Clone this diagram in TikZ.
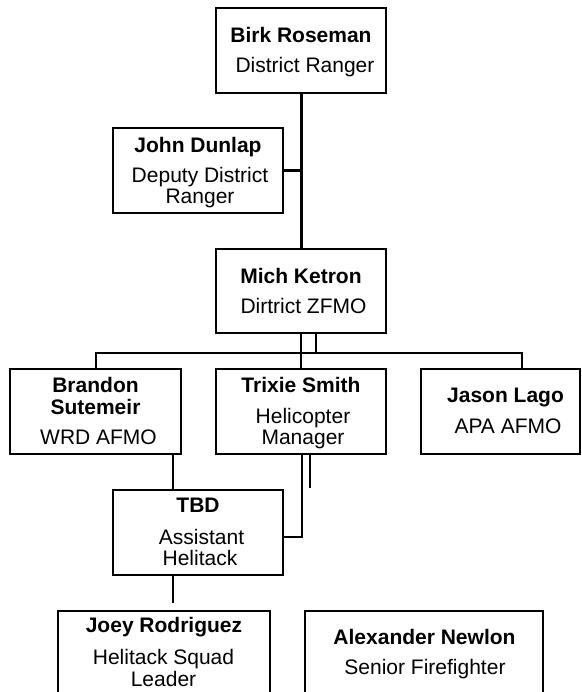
\documentclass[tikz,border=0pt]{standalone}
\usepackage{fontspec}
\setmainfont{Liberation Sans}
\begin{document}
\begin{tikzpicture}[x=1pt,y=-1pt,
  box/.style={draw, line width=2.2pt, rectangle, inner sep=0pt},
  nm/.style={anchor=base, inner sep=0pt, font=\fontsize{21}{21}\selectfont\bfseries},
  tt/.style={anchor=base, inner sep=0pt, font=\fontsize{21}{21}\selectfont},
  link/.style={line width=2pt},
  trunk/.style={line width=3pt}]
\useasboundingbox (0,0) rectangle (581,692);
\clip (0,0) rectangle (581,692);
% boxes
\node[box, minimum width=170pt, minimum height=85pt] (birk) at (301,50.5) {};
\node[box, minimum width=170pt, minimum height=85pt] (john) at (198,170.5) {};
\node[box, minimum width=170pt, minimum height=84pt] (mich) at (301,291) {};
\node[box, minimum width=171pt, minimum height=85pt] (brandon) at (95.5,411.5) {};
\node[box, minimum width=170pt, minimum height=85pt] (trixie) at (301,411.5) {};
\node[box, minimum width=159pt, minimum height=85pt] (jason) at (500.5,411.5) {};
\node[box, minimum width=170pt, minimum height=85pt] (tbd) at (198,532.5) {};
\node[box, minimum width=212pt, minimum height=110pt] (joey) at (164,666) {};
\node[box, minimum width=238pt, minimum height=110pt] (alex) at (424,666) {};
% texts
\node[nm] (birkn) at (301,42.5) {Birk Roseman};
\node[tt] (birkt) at (305,72.5) {District Ranger};
\node[nm] (johnn) at (198,152.5) {John Dunlap};
\node[tt] (johnt1) at (200,182.5) {Deputy District};
\node[tt] (johnt2) at (200,203.5) {Ranger};
\node[nm] (michn) at (301,283.5) {Mich Ketron};
\node[tt] (micht) at (303.5,313.5) {Dirtrict ZFMO};
\node[nm] (brandonn1) at (95.5,392.5) {Brandon};
\node[nm] (brandonn2) at (95.5,414.5) {Sutemeir};
\node[tt] (brandont) at (98.5,444.5) {WRD AFMO};
\node[nm] (trixien) at (301,392.5) {Trixie Smith};
\node[tt] (trixiet1) at (303,423.5) {Helicopter};
\node[tt] (trixiet2) at (303,444.5) {Manager};
\node[nm] (jasonn) at (505.5,402.5) {Jason Lago};
\node[tt] (jasont) at (508,433.5) {APA AFMO};
\node[nm] (tbdn) at (198,512.5) {TBD};
\node[tt] (tbdt1) at (201.5,544.5) {Assistant};
\node[tt] (tbdt2) at (200,565) {Helitack};
\node[nm] (joeyn) at (164,632.5) {Joey Rodriguez};
\node[tt] (joeyt1) at (163.5,664.5) {Helitack Squad};
\node[tt] (joeyt2) at (163.5,686.5) {Leader};
\node[nm] (alexn) at (424.5,644.5) {Alexander Newlon};
\node[tt] (alext) at (425,674.5) {Senior Firefighter};
% connectors
\coordinate (barR) at (522,353);
\coordinate (tbdend) at (173,603);
\draw[trunk] (birk.south) -- (mich.north);
\draw[trunk] (john.east) -- (john.east -| birk.south);
\draw[link] (mich.south) -- (trixie.north);
\draw[link] ([xshift=15pt]mich.south) -- ([xshift=15pt]mich.south |- barR);
\draw[link] (brandon.north) |- (barR) -- (barR |- jason.north);
\draw[link] ([xshift=-25pt]tbd.north) -- ([xshift=-25pt]tbd.north |- brandon.south);
\draw[link] ([xshift=1pt]trixie.south) |- ([yshift=-4.5pt]tbd.east);
\draw[link] ([xshift=9pt]trixie.south) -- ([xshift=9pt,yshift=-33pt]trixie.south);
\draw[link] ([xshift=-25pt]tbd.south) -- (tbdend);
\end{tikzpicture}
\end{document}
